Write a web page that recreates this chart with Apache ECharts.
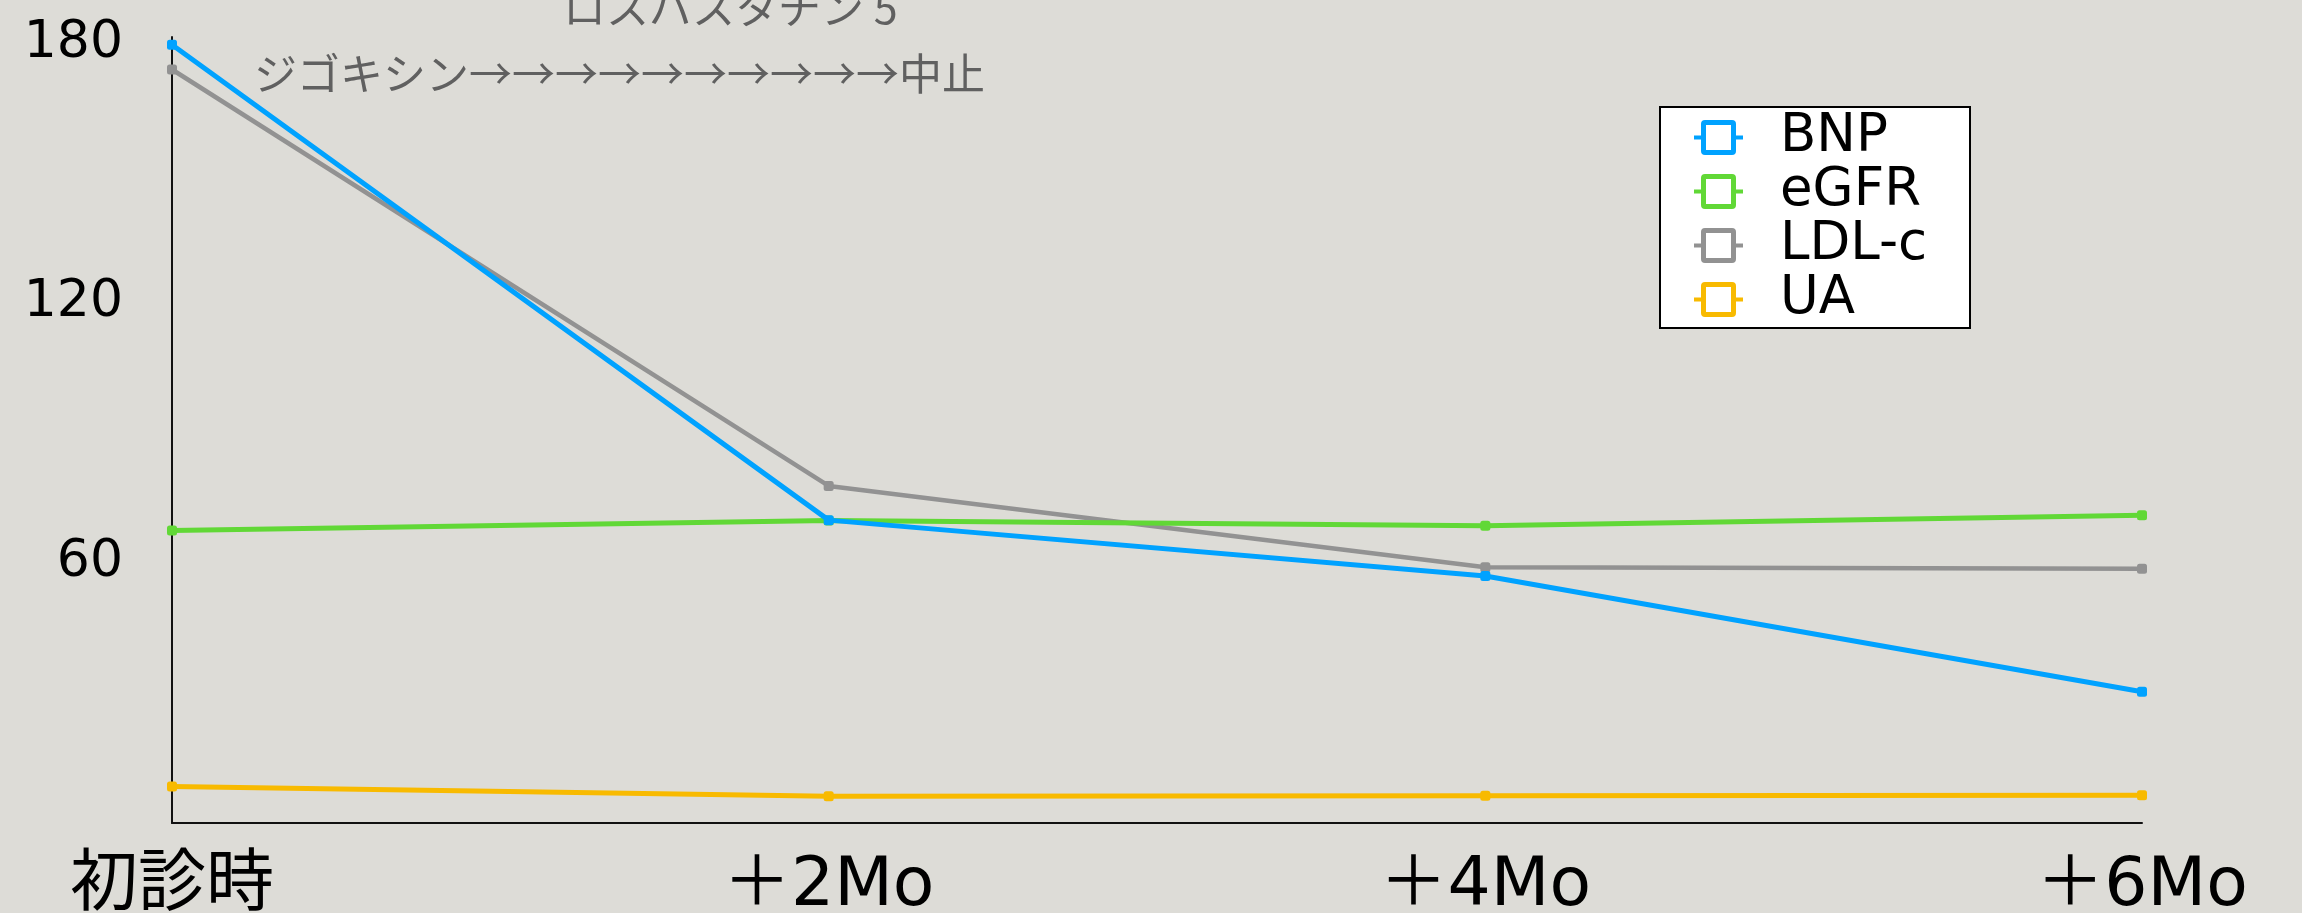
<!DOCTYPE html>
<html>
<head>
<meta charset="utf-8">
<style>
  html, body { margin: 0; padding: 0; background: #dddcd7; }
  #chart { width: 2302px; height: 913px; }
</style>
<script src="https://cdn.jsdelivr.net/npm/echarts@6/dist/echarts.min.js"></script>
</head>
<body>
<div id="chart"></div>
<script>
// Visit time points
const categories = ['初診時', '＋2Mo', '＋4Mo', '＋6Mo'];

// Lab values per visit
const bnp  = [178.2, 68.5, 55.6, 28.9];
const egfr = [66.1, 68.4, 67.2, 69.6];
const ldlc = [172.5, 76.4, 57.6, 57.3];
const ua   = [7.0, 4.8, 4.9, 5.0];

// Value-axis labels
const yTickLabels = [60, 120, 180];

const seriesNames  = ['BNP', 'eGFR', 'LDL-c', 'UA'];
const seriesColors = ['#00a2ff', '#61d836', '#929292', '#f8ba00'];
const seriesWidth  = [5, 5, 4.5, 5];
const seriesZ      = [6, 5, 4, 3];

// Legend glyph: short line through a hollow rounded square
const legendIcon = 'path://M0 15.5H7V19.5H0Z M42 15.5H49V19.5H42Z ' +
  'M11 0H38Q42 0 42 4V31Q42 35 38 35H11Q7 35 7 31V4Q7 0 11 0Z M12 5V30H37V5Z';

const latin = '"DejaVu Sans", "Noto Sans CJK JP", sans-serif';
const cjk = '"Noto Sans CJK JP", sans-serif';

const chart = echarts.init(document.getElementById('chart'), null, { renderer: 'canvas' });

chart.setOption({
  backgroundColor: '#dddcd7',
  animation: false,
  grid: {
    left: 172, right: 160, top: 37, bottom: 90,
    containLabel: false,
    outerBoundsMode: 'none'
  },
  xAxis: {
    type: 'category',
    data: categories,
    boundaryGap: false,
    axisLine: { onZero: false, lineStyle: { color: '#111', width: 2 } },
    axisTick: { show: false },
    axisLabel: {
      color: '#000',
      fontSize: 68,
      fontFamily: latin,
      margin: 30,
      interval: 0
    },
    splitLine: { show: false }
  },
  yAxis: {
    type: 'value',
    min: -1.4,
    max: 180,
    axisLine: { show: true, lineStyle: { color: '#111', width: 2 } },
    axisTick: { show: false },
    splitLine: { show: false },
    axisLabel: {
      customValues: yTickLabels,
      margin: 49,
      formatter: '{v|{value}}',
      rich: {
        v: {
          color: '#000',
          fontSize: 52,
          fontFamily: latin,
          padding: [12, 0, 0, 0]
        }
      }
    }
  },
  legend: {
    orient: 'vertical',
    left: 1660,
    top: 107,
    data: seriesNames.map(n => ({ name: n, icon: legendIcon })),
    itemWidth: 49,
    itemHeight: 35,
    itemGap: 1,
    backgroundColor: '#ffffff',
    borderColor: '#000',
    borderWidth: 2,
    borderRadius: 0,
    padding: [4, 38, 2, 34],
    itemStyle: { borderWidth: 0 },
    selectedMode: false,
    textStyle: {
      color: '#000',
      fontSize: 53,
      fontFamily: latin,
      lineHeight: 35,
      padding: [0, 0, 0, 32],
      width: 152
    }
  },
  graphic: [
    {
      type: 'text',
      left: 563,
      top: -14,
      style: {
        text: 'ロスバスタチン 5',
        fill: '#606060',
        font: '43px ' + cjk
      },
      silent: true
    },
    {
      type: 'text',
      left: 254,
      top: 52,
      style: {
        text: 'ジゴキシン→→→→→→→→→→中止',
        fill: '#606060',
        font: '43px ' + cjk
      },
      silent: true
    }
  ],
  series: [bnp, egfr, ldlc, ua].map((vals, i) => ({
    name: seriesNames[i],
    type: 'line',
    data: vals,
    z: seriesZ[i],
    symbol: 'roundRect',
    symbolSize: 10,
    showAllSymbol: true,
    color: seriesColors[i],
    lineStyle: { width: seriesWidth[i], color: seriesColors[i] },
    itemStyle: { color: seriesColors[i], borderWidth: 0 }
  }))
});
</script>
</body>
</html>
